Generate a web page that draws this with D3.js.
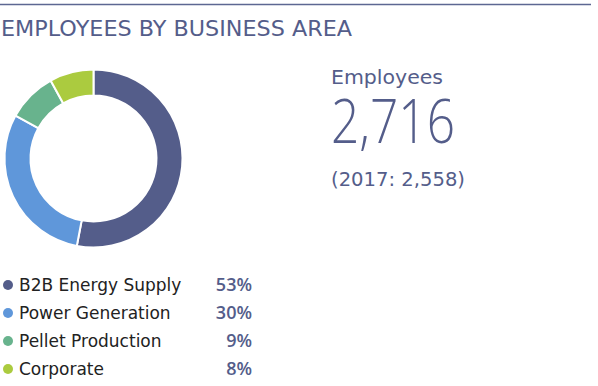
<!DOCTYPE html>
<html>
<head>
<meta charset="utf-8">
<script src="https://cdn.jsdelivr.net/npm/d3@7"></script>
<style>
  body { margin: 0; background: #fff; }
  svg { display: block; font-family: "DejaVu Sans", sans-serif; }
</style>
</head>
<body>
<svg id="chart"></svg>
<script>
// data
const areas = ['B2B Energy Supply', 'Power Generation', 'Pellet Production', 'Corporate'];
const shares = [53, 30, 9, 8];
const colors = ['#545d8a', '#5f97da', '#68b38d', '#abcb3f'];
const totalEmployees = '2,716';
const previousLabel = '(2017: 2,558)';

const width = 598, height = 386;
const textColor = '#545d8a';

const svg = d3.select('#chart')
  .attr('width', width)
  .attr('height', height);

// top rule
svg.append('line')
  .attr('x1', 0).attr('x2', 591)
  .attr('y1', 4.5).attr('y2', 4.5)
  .attr('stroke', '#5d6792')
  .attr('stroke-width', 1.5);

svg.append('text')
  .attr('x', 1).attr('y', 36)
  .attr('fill', textColor)
  .attr('font-size', 22)
  .attr('textLength', 351)
  .attr('lengthAdjust', 'spacingAndGlyphs')
  .text('EMPLOYEES BY BUSINESS AREA');

/* donut */
const pie = d3.pie().sort(null).value(d => d);
const arc = d3.arc().innerRadius(63).outerRadius(89);

const donut = svg.append('g')
  .attr('transform', 'translate(93.5,158.5)');

donut.selectAll('path')
  .data(pie(shares))
  .enter()
  .append('path')
  .attr('d', arc)
  .attr('fill', (d, i) => colors[i])
  .attr('stroke', '#fff')
  .attr('stroke-width', 2);

/* key figure */
svg.append('text')
  .attr('x', 331).attr('y', 84)
  .attr('fill', textColor)
  .attr('font-size', 20)
  .attr('textLength', 112)
  .attr('lengthAdjust', 'spacingAndGlyphs')
  .text('Employees');

svg.append('text')
  .attr('x', 331).attr('y', 143)
  .attr('fill', textColor)
  .attr('font-family', '"Open Sans", sans-serif')
  .attr('font-size', 61)
  .attr('font-weight', 300)
  .attr('textLength', 124)
  .attr('lengthAdjust', 'spacingAndGlyphs')
  .text(totalEmployees);

svg.append('text')
  .attr('x', 331).attr('y', 186)
  .attr('fill', textColor)
  .attr('font-size', 19)
  .attr('textLength', 134)
  .attr('lengthAdjust', 'spacingAndGlyphs')
  .text(previousLabel);

/* legend */
const y = d3.scaleBand()
  .domain(areas)
  .range([271, 383]);

const row = svg.selectAll('.legend-row')
  .data(areas)
  .enter()
  .append('g')
  .attr('class', 'legend-row')
  .attr('transform', d => `translate(0,${y(d) + y.bandwidth() / 2})`);

row.append('circle')
  .attr('cx', 8).attr('cy', 0)
  .attr('r', 5)
  .attr('fill', (d, i) => colors[i]);

row.append('text')
  .attr('x', 19).attr('y', 6)
  .attr('fill', '#222')
  .attr('font-size', 17)
  .text(d => d);

row.append('text')
  .attr('x', 252).attr('y', 6)
  .attr('text-anchor', 'end')
  .attr('fill', textColor)
  .attr('font-family', '"Open Sans", sans-serif')
  .attr('font-size', 18)
  .attr('font-weight', 600)
  .text((d, i) => shares[i] + '%');
</script>
</body>
</html>
